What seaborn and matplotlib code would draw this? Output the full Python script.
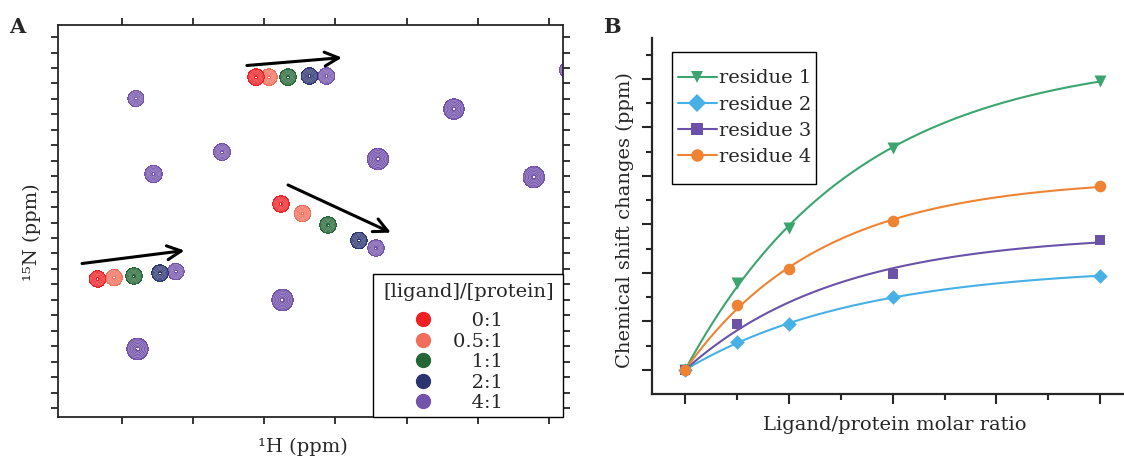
import numpy as np
import pandas as pd
import matplotlib
matplotlib.use('Agg')
import matplotlib.pyplot as plt
import seaborn as sns
from matplotlib.lines import Line2D
from matplotlib.path import Path

# ---------------- data: panel A (peak positions, ppm) ----------------
ratio_labels = ['0:1', '0.5:1', '1:1', '2:1', '4:1']
ratio_colors = ['#EE2024', '#F26D5B', '#246636', '#2B3370', '#7353AB']

# three titrating residues, one position per ratio
peak1_h = [8.558, 8.467, 8.333, 8.182, 8.063]
peak1_n = [107.59, 107.59, 107.59, 107.52, 107.52]
peak2_h = [8.383, 8.232, 8.052, 7.835, 7.715]
peak2_n = [115.80, 116.42, 117.16, 118.16, 118.65]
peak3_h = [9.672, 9.556, 9.416, 9.233, 9.121]
peak3_n = [120.65, 120.56, 120.46, 120.27, 120.17]

# peaks that do not move (seen at 4:1 on top)
static_h = [9.402, 7.167, 8.797, 7.701, 9.279, 6.605, 6.373, 8.372, 9.391]
static_n = [108.98, 109.66, 112.44, 112.89, 113.86, 114.06, 107.13, 122.01, 125.18]
static_size = [0.98, 1.25, 1.02, 1.3, 1.06, 1.3, 0.9, 1.3, 1.3]

# shift arrows (start h, start n, end h, end n)
arrow_h0 = [8.622, 8.333, 9.781]
arrow_n0 = [106.84, 114.57, 119.65]
arrow_h1 = [7.954, 7.610, 9.061]
arrow_n1 = [106.33, 117.65, 118.81]

h_ticks = [9.5, 9.0, 8.5, 8.0, 7.5, 7.0, 6.5]
n_ticks = list(range(105, 130))

# ---------------- data: panel B ----------------
ratio = [0, 0.5, 1, 2, 4]
res1 = [0, 1.80, 2.92, 4.58, 5.96]
res2 = [0, 0.57, 0.94, 1.50, 1.94]
res3 = [0, 0.94, np.nan, 1.98, 2.68]
res4 = [0, 1.33, 2.08, 3.07, 3.79]
res_names = ['residue 1', 'residue 2', 'residue 3', 'residue 4']
res_colors = ['#3CA56F', '#47B0E5', '#6B52A8', '#EE8333']
res_markers = ['v', 'D', 's', 'o']
res_sizes = [75, 55, 50, 70]

sns.set_style('ticks')
plt.rcParams['font.family'] = ['DejaVu Serif']
FS = 14
PX = FS * 100 / 72  # font size in pixels

fig = plt.figure(figsize=(11.24, 4.58), dpi=100)
axA = fig.add_axes([0.0516, 0.0895, 0.4493, 0.8559])
axB = fig.add_axes([0.5801, 0.1397, 0.4199, 0.7773])


def padded_box(left, right, bottom, top):
    # legend frame with extra padding (in font-size units) on each side
    def box(x0, y0, width, height, mutation_size):
        l, r = left * mutation_size, right * mutation_size
        b, t = bottom * mutation_size, top * mutation_size
        return Path([(x0 - l, y0 - b), (x0 + width + r, y0 - b),
                     (x0 + width + r, y0 + height + t), (x0 - l, y0 + height + t),
                     (x0 - l, y0 - b)],
                    [Path.MOVETO, Path.LINETO, Path.LINETO, Path.LINETO,
                     Path.CLOSEPOLY])
    return box


# ---------------- panel A: contour spectrum ----------------
HX, NY = np.meshgrid(np.linspace(6.2, 10.1, 1200), np.linspace(103.5, 130.5, 1000))
sig_h, sig_n = 0.032, 0.295
r_sig = np.linspace(0.3, 1.8, 7)
levels = np.sort(np.exp(-r_sig ** 2 / 2))


def spectrum(hs, ns, sizes):
    z = np.zeros_like(HX)
    for h, n, s in zip(hs, ns, sizes):
        z = np.maximum(z, np.exp(-((HX - h) / (sig_h * s)) ** 2 / 2
                                 - ((NY - n) / (sig_n * s)) ** 2 / 2))
    return z


for i in reversed(range(len(ratio_labels))):
    hs = [peak1_h[i], peak2_h[i], peak3_h[i]]
    ns = [peak1_n[i], peak2_n[i], peak3_n[i]]
    sz = [1.0, 1.0, 1.0]
    if i == len(ratio_labels) - 1:
        hs += static_h
        ns += static_n
        sz += static_size
    z = spectrum(hs, ns, sz)
    zo = 2 + (4 - i) * 0.1
    axA.contourf(HX, NY, z, levels=[levels[0], levels[-1]],
                 colors=[ratio_colors[i]], zorder=zo)
    axA.contour(HX, NY, z, levels=levels[1:-1], colors='white',
                linewidths=0.3, alpha=0.6, zorder=zo + 0.01)

for h0, n0, h1, n1 in zip(arrow_h0, arrow_n0, arrow_h1, arrow_n1):
    axA.annotate('', xy=(h1, n1), xytext=(h0, n0),
                 arrowprops=dict(arrowstyle='->,head_length=0.5,head_width=0.25',
                                 color='black', lw=2.2, mutation_scale=20,
                                 shrinkA=0, shrinkB=0), zorder=10)

axA.set_xlim(9.95, 6.40)
axA.set_ylim(129.58, 104.22)
axA.set_xticks(h_ticks)
axA.set_yticks(n_ticks)
axA.tick_params(axis='x', top=True, bottom=True, direction='out', length=5,
                width=1.3, labelbottom=False)
axA.tick_params(axis='y', left=True, right=True, direction='out', length=5,
                width=1.3, labelleft=False)
for sp in axA.spines.values():
    sp.set_linewidth(1.3)
axA.set_xlabel('¹H (ppm)', fontsize=FS)
axA.xaxis.set_label_coords(0.484, -0.052)
axA.set_ylabel('¹⁵N (ppm)', fontsize=FS)
axA.yaxis.set_label_coords(-0.034, 0.472)

handlesA = [Line2D([0], [0], marker='o', ls='none', markersize=10,
                   markerfacecolor=c, markeredgecolor=c) for c in ratio_colors]
padded = [('\u2007\u2008' + l if len(l) == 3 else l) + '\u2007\u2007\u2008'
          for l in ratio_labels]
ext_r = 0.2
axA_w_px = 0.4493 * 1124
legA = axA.legend(handlesA, padded, title='[ligand]/[protein]', loc='lower right',
                  bbox_to_anchor=(1 - ext_r * PX / axA_w_px, 0),
                  borderaxespad=0, fontsize=FS, title_fontsize=FS, frameon=True,
                  fancybox=False, edgecolor='black', framealpha=1,
                  alignment='center', labelspacing=0.13, handletextpad=0.55,
                  borderpad=0.25)
legA._legend_box.sep = 0.55 * FS
legA.get_frame().set_boxstyle(padded_box(0.32, ext_r, 0.0, 0.22))
legA.get_frame().set_linewidth(1.0)
legA.set_zorder(20)

# ---------------- panel B: titration curves ----------------
def saturation_fit(x, y):
    x = np.asarray(x, float)
    y = np.asarray(y, float)
    ok = np.isfinite(y)
    x, y = x[ok], y[ok]
    best = (np.inf, 0, 0)
    for b in np.linspace(0.05, 5, 2000):
        f = 1 - np.exp(-b * x)
        a = (f @ y) / (f @ f)
        err = ((a * f - y) ** 2).sum()
        if err < best[0]:
            best = (err, a, b)
    return best[1], best[2]


series = [res1, res2, res3, res4]
pts = pd.DataFrame({'ratio': ratio * 4,
                    'shift': np.concatenate(series),
                    'residue': np.repeat(res_names, len(ratio))})
xfit = np.linspace(0, 4, 300)
fits = []
for name, ys in zip(res_names, series):
    a, b = saturation_fit(ratio, ys)
    fits.append(pd.DataFrame({'ratio': xfit, 'shift': a * (1 - np.exp(-b * xfit)),
                              'residue': name}))
fits = pd.concat(fits, ignore_index=True)

pal = dict(zip(res_names, res_colors))
sns.lineplot(data=fits, x='ratio', y='shift', hue='residue', palette=pal,
             linewidth=1.5, legend=False, ax=axB, zorder=2)
for name, m, s in zip(res_names, res_markers, res_sizes):
    sns.scatterplot(data=pts[pts['residue'] == name].dropna(), x='ratio', y='shift',
                    color=pal[name], marker=m, s=s, linewidth=0, legend=False,
                    ax=axB, zorder=3)

axB.set_xlim(-0.32, 4.23)
axB.set_ylim(-0.5, 6.845)
axB.set_xticks([0, 1, 2, 3, 4])
axB.set_xticks([0.5, 1.5, 2.5, 3.5], minor=True)
axB.set_yticks([0, 1, 2, 3, 4, 5, 6])
axB.set_yticks([0.5, 1.5, 2.5, 3.5, 4.5, 5.5, 6.5], minor=True)
axB.tick_params(which='major', direction='out', length=7, width=1.5,
                labelbottom=False, labelleft=False)
axB.tick_params(which='minor', direction='out', length=4, width=1.5)
sns.despine(ax=axB)
for sp in ['left', 'bottom']:
    axB.spines[sp].set_linewidth(1.6)
axB.set_xlabel('Ligand/protein molar ratio', fontsize=FS)
axB.xaxis.set_label_coords(0.515, -0.062)
axB.set_ylabel('Chemical shift changes (ppm)', fontsize=FS)
axB.yaxis.set_label_coords(-0.038, 0.49)

handlesB = [Line2D([0], [0], color=c, marker=m, lw=1.5, markersize=9,
                   markeredgewidth=0) for c, m in zip(res_colors, res_markers)]
legB = axB.legend(handlesB, res_names, loc='upper left', bbox_to_anchor=(0.042, 0.928),
                  borderaxespad=0, fontsize=FS, frameon=True, fancybox=False,
                  edgecolor='black', framealpha=1, borderpad=0.3,
                  handlelength=2.0, handletextpad=0.15, labelspacing=0.42)
legB.get_frame().set_boxstyle(padded_box(0.0, -0.1, 0.62, 0.62))
legB.get_frame().set_linewidth(1.0)

fig.text(9 / 1124, 1 - 33 / 458, 'A', fontsize=15, fontweight='bold', va='baseline')
fig.text(603 / 1124, 1 - 33 / 458, 'B', fontsize=15, fontweight='bold', va='baseline')

fig.savefig('out.png', dpi=100)
